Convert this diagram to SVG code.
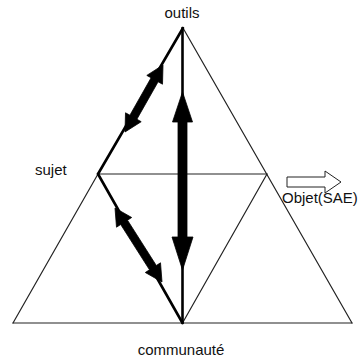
<svg xmlns="http://www.w3.org/2000/svg" width="359" height="359" viewBox="0 0 359 359">
<style>
.thin{stroke:#222;stroke-width:1.2;fill:none;stroke-linecap:round}
.thick{stroke:#000;stroke-width:2.6;fill:none;stroke-linecap:round}
.arr{fill:#000;stroke:#000;stroke-width:0.8;stroke-linejoin:round}
.lbl{font-family:"Liberation Sans",Arial,sans-serif;font-size:15px;fill:#111}
</style>
<rect width="359" height="359" fill="#fff"/>
<g id="connectors">
<line class="thin" x1="98" y1="174" x2="13" y2="323"/>
<line class="thin" x1="183" y1="28" x2="352" y2="323"/>
<line class="thin" x1="13" y1="323" x2="352" y2="323"/>
<line class="thin" x1="98" y1="174" x2="267" y2="174"/>
<line class="thin" x1="267" y1="174" x2="182.5" y2="323"/>
<line class="thick" x1="183" y1="28" x2="98" y2="174"/>
<line class="thick" x1="98" y1="174" x2="182.5" y2="323"/>
<line class="thick" x1="182.5" y1="28" x2="182.5" y2="323"/>
<polygon class="arr" points="141.2,121.7 136.9,119.2 158.1,81.8 162.5,84.2 163,65 146.8,75.4 151.1,77.8 129.9,115.2 125.5,112.8 125,132"/>
<polygon class="arr" points="131.7,217.5 127.5,220.2 156.3,265.5 160.5,262.8 162,282 145.3,272.5 149.5,269.8 120.7,224.5 116.5,227.2 115,208"/>
<polygon class="arr" points="182.5,92 192.5,122 187,122 187,237 193,237 182.5,270 172,237 178,237 178,122 172.5,122"/>
<polygon fill="#fff" stroke="#222" stroke-width="1" points="287,177 325,177 325,171 341,182 325,193 325,187 287,187"/>
</g>
<g id="outils"><text class="lbl" x="182" y="18" text-anchor="middle">outils</text></g>
<g id="sujet"><text class="lbl" x="35" y="175">sujet</text></g>
<g id="objet"><text class="lbl" x="282" y="203">Objet(SAE)</text></g>
<g id="communaute"><text class="lbl" x="181" y="355" text-anchor="middle">communauté</text></g>
</svg>
